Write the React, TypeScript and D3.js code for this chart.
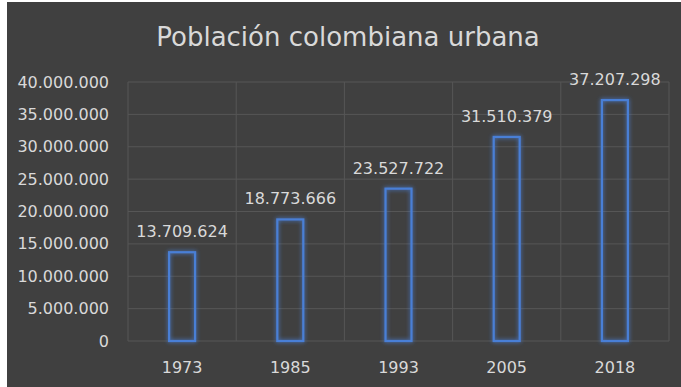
import * as d3 from 'd3';

const years = ['1973', '1985', '1993', '2005', '2018'];
const urbanPop = [13709624, 18773666, 23527722, 31510379, 37207298];
const yTicks = [0, 5000000, 10000000, 15000000, 20000000, 25000000, 30000000, 35000000, 40000000];

const W = 681;
const H = 387;
const BG = '#404040';
const TEXT = '#d9d9d9';
const GRID = '#565656';
const BLUE = '#4a7fd6';
const FONT = '"DejaVu Sans", "Open Sans", sans-serif';

// dotted thousands separator like the spanish excel output
const fmt = (v: number) => d3.format(',')(v).replace(/,/g, '.');

export default function App() {
  const m = { left: 128, right: 12, top: 82, bottom: 46 };

  const x = d3.scaleBand().domain(years).range([m.left, W - m.right]).padding(0);
  const y = d3.scaleLinear().domain([0, 40000000]).range([H - m.bottom, m.top]);
  const barW = x.bandwidth() * 0.24;

  return (
    <svg width={W} height={H} style={{ position: 'absolute', left: 0, top: 0 }}>
      <defs>
        <filter id="glow" x="-50%" y="-20%" width="200%" height="140%">
          <feGaussianBlur stdDeviation="2" result="b" />
          <feMerge>
            <feMergeNode in="b" />
            <feMergeNode in="SourceGraphic" />
          </feMerge>
        </filter>
      </defs>
      <rect width={W} height={H} fill="#ffffff" />
      <rect x={7} y={2} width={W - 7} height={H - 2} fill={BG} />

      <text x={348} y={46} textAnchor="middle" fill={TEXT} fontFamily={FONT} fontSize={26}>
        Población colombiana urbana
      </text>

      {/* horizontal grid */}
      {yTicks.map(t => (
        <line key={'h' + t} x1={m.left} x2={W - m.right} y1={y(t)} y2={y(t)} stroke={GRID} strokeWidth={1} />
      ))}
      {/* vertical grid at band edges */}
      {years.concat(['end']).map((yr, i) => {
        const gx = i < years.length ? x(yr)! : W - m.right;
        return <line key={'v' + yr} x1={gx} x2={gx} y1={m.top} y2={y(0)} stroke={GRID} strokeWidth={1} />;
      })}

      {yTicks.map(t => (
        <text key={'yl' + t} x={109} y={y(t)} dy="0.35em" textAnchor="end" fill={TEXT} fontFamily={FONT} fontSize={16}>
          {fmt(t)}
        </text>
      ))}

      {years.map((yr, i) => {
        const cx = x(yr)! + x.bandwidth() / 2;
        const top = y(urbanPop[i]);
        return (
          <g key={yr}>
            <rect
              x={cx - barW / 2}
              y={top}
              width={barW}
              height={y(0) - top}
              fill="none"
              stroke={BLUE}
              strokeWidth={2.2}
              filter="url(#glow)"
            />
            <text x={cx} y={top - 15} textAnchor="middle" fill={TEXT} fontFamily={FONT} fontSize={16}>
              {fmt(urbanPop[i])}
            </text>
            <text x={cx} y={373} textAnchor="middle" fill={TEXT} fontFamily={FONT} fontSize={16}>
              {yr}
            </text>
          </g>
        );
      })}
    </svg>
  );
}
